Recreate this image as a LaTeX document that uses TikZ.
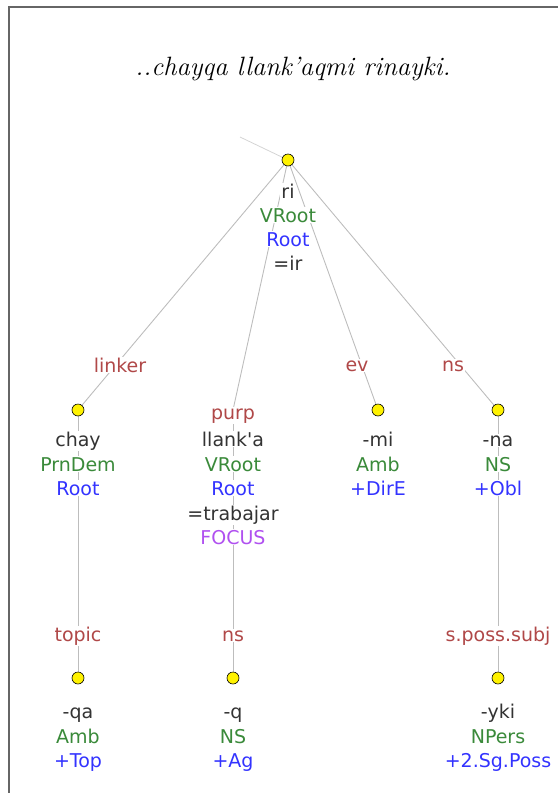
\documentclass[tikz,border=0pt]{standalone}
\usepackage{fontspec}
\newfontfamily\dv{DejaVu Sans}
\pgfdeclarelayer{background}
\pgfsetlayers{background,main}
\definecolor{tblack}{HTML}{333333}
\definecolor{tgreen}{HTML}{3A8A3A}
\definecolor{tblue}{HTML}{3333FF}
\definecolor{tred}{HTML}{B04848}
\definecolor{tpurple}{HTML}{B050F0}
\definecolor{edgec}{HTML}{BDBDBD}
\definecolor{faintc}{HTML}{D4D4D4}
\definecolor{framec}{HTML}{666666}
\begin{document}
\begin{tikzpicture}[x=1pt,y=-1pt,
  dotn/.style={circle, draw=black, fill=yellow, minimum size=12pt, inner sep=0pt, line width=0.6pt},
  word/.style={font=\dv\fontsize{19}{22}\selectfont, fill=white, inner sep=1pt, anchor=base},
  wk/.style={word, text=tblack},
  wg/.style={word, text=tgreen},
  wb/.style={word, text=tblue},
  wp/.style={word, text=tpurple},
  lab/.style={word, text=tred},
  edge/.style={draw=edgec, line width=0.9pt},
  titlen/.style={font=\fontsize{26.5}{30}\selectfont\itshape, anchor=base, inner sep=0pt}
]
\useasboundingbox (0,0) rectangle (558,793);
\draw[framec, line width=1.5pt] (9,793) -- (9,7) -- (558,7);

\node[titlen] (title) at (293,75) {..chayqa llank'aqmi rinayki.};

% root
\coordinate (faint) at (240,137);
\node[dotn] (d0) at (288,160) {};
\node[wk] (r1) at (288,198) {ri};
\node[wg] (r2) at (288,222) {VRoot};
\node[wb] (r3) at (288,246) {Root};
\node[wk] (r4) at (288,270) {=ir};

% chay
\node[dotn] (d1) at (78,410) {};
\node[lab] (l1) at (120,372) {linker};
\node[wk] (c1) at (78,446) {chay};
\node[wg] (c2) at (78,471) {PrnDem};
\node[wb] (c3) at (78,495) {Root};

% llank'a
\coordinate (d2) at (233,410);
\node[lab] (l2) at (233,419) {purp};
\node[wk] (k1) at (233,446) {llank'a};
\node[wg] (k2) at (233,471) {VRoot};
\node[wb] (k3) at (233,495) {Root};
\node[wk] (k4) at (233,520) {=trabajar};
\node[wp] (k5) at (233,544) {FOCUS};

% mi
\node[dotn] (d3) at (378,410) {};
\node[lab] (l3) at (357,371) {ev};
\node[wk] (m1) at (378,446) {-mi};
\node[wg] (m2) at (378,471) {Amb};
\node[wb] (m3) at (378,495) {+DirE};

% na
\node[dotn] (d4) at (498,410) {};
\node[lab] (l4) at (453,371) {ns};
\node[wk] (n1) at (498,446) {-na};
\node[wg] (n2) at (498,471) {NS};
\node[wb] (n3) at (498,495) {+Obl};

% qa
\node[dotn] (d5) at (78,678) {};
\node[lab] (l5) at (78,641) {topic};
\node[wk] (q1) at (78,718) {-qa};
\node[wg] (q2) at (78,743) {Amb};
\node[wb] (q3) at (78,767) {+Top};

% q
\node[dotn] (d6) at (233,678) {};
\node[lab] (l6) at (233,641) {ns};
\node[wk] (g1) at (233,718) {-q};
\node[wg] (g2) at (233,743) {NS};
\node[wb] (g3) at (233,767) {+Ag};

% yki
\node[dotn] (d7) at (498,678) {};
\node[lab] (l7) at (498,641) {s.poss.subj};
\node[wk] (y1) at (498,718) {-yki};
\node[wg] (y2) at (498,743) {NPers};
\node[wb] (y3) at (498,767) {+2.Sg.Poss};

\begin{pgfonlayer}{background}
\draw[draw=faintc, line width=0.8pt] (faint) -- (d0.center);
\draw[edge] (d0.center) -- (d1.center);
\draw[edge] (d0.center) -- (d2);
\draw[edge] (d0.center) -- (d3.center);
\draw[edge] (d0.center) -- (d4.center);
\draw[edge] (d1.center) -- (d5.center);
\draw[edge] (d2) -- (d6.center);
\draw[edge] (d4.center) -- (d7.center);
\end{pgfonlayer}
\end{tikzpicture}
\end{document}
